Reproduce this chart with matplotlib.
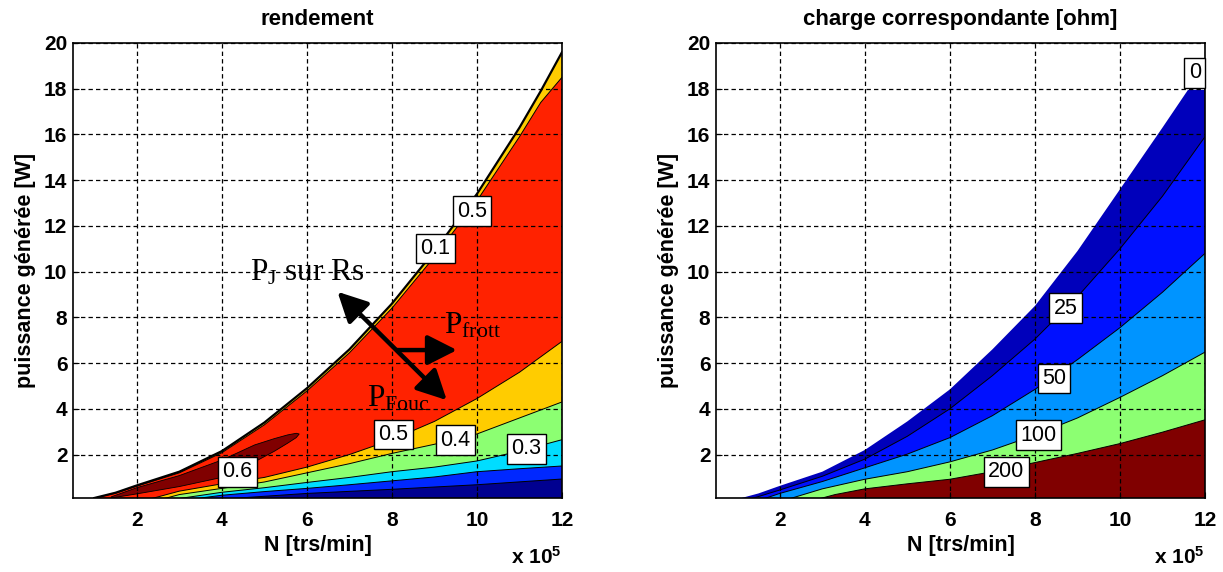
import matplotlib
matplotlib.use('Agg')
import matplotlib.pyplot as plt

plt.rcParams['font.family'] = ['Liberation Sans', 'DejaVu Sans']
plt.rcParams['mathtext.fontset'] = 'custom'
plt.rcParams['mathtext.rm'] = 'Liberation Serif'
plt.rcParams['mathtext.it'] = 'Liberation Serif:italic'
plt.rcParams['mathtext.bf'] = 'Liberation Sans:bold'

# ---------------- data (N in units of 1e5 trs/min, P in W) ----------------
# left plot: efficiency ("rendement")
N_upper = [1.0, 1.5, 2, 3, 4, 5, 6, 7, 8, 9, 10, 11, 11.5, 12]
P_upper = [0.1, 0.33, 0.65, 1.25, 2.15, 3.4, 4.9, 6.6, 8.6, 10.9, 13.4, 16.3, 17.9, 19.6]
P_red_top = [0.1, 0.31, 0.62, 1.2, 2.08, 3.3, 4.78, 6.45, 8.4, 10.65, 13.1, 15.9, 17.4, 18.5]

N_eff_hi = [1.4, 2, 3, 4, 4.77, 5.24, 5.55, 5.75, 5.82]
P_eff_hi_top = [0.15, 0.55, 1.08, 1.76, 2.42, 2.7, 2.86, 2.93, 2.9]
P_eff_hi_bot = [0.1, 0.28, 0.6, 1.0, 1.68, 2.15, 2.5, 2.74, 2.9]

N_c05 = [2.3, 3, 4, 5, 6, 7, 8, 9, 10, 11, 12]
P_c05 = [0.05, 0.4, 0.72, 1.0, 1.45, 2.0, 2.65, 3.45, 4.45, 5.6, 6.95]
N_c04 = [2.6, 3, 4, 5, 6, 7, 8, 9, 10, 11, 12]
P_c04 = [0.05, 0.25, 0.52, 0.8, 1.2, 1.6, 2.05, 2.45, 2.9, 3.6, 4.3]
N_c03 = [2.9, 4, 5, 6, 7, 8, 9, 10, 11, 12]
P_c03 = [0.05, 0.35, 0.55, 0.78, 1.0, 1.25, 1.45, 1.72, 2.15, 2.65]
N_c02 = [3.3, 4, 5, 6, 7, 8, 9, 10, 11, 12]
P_c02 = [0.05, 0.22, 0.38, 0.52, 0.68, 0.85, 1.02, 1.25, 1.38, 1.5]
N_c01 = [4, 6, 8, 10, 12]
P_c01 = [0.05, 0.3, 0.48, 0.68, 0.93]

eff_labels = ['0.6', '0.5', '0.4', '0.3', '0.1', '0.5']
eff_label_N = [4.37, 8.04, 9.49, 11.16, 9.02, 9.88]
eff_label_P = [1.24, 2.87, 2.63, 2.25, 11.01, 12.65]

# right plot: matching load ("charge correspondante")
N_r_upper = [1.0, 1.5, 2, 3, 4, 5, 6, 7, 8, 9, 10, 11, 11.6, 12]
P_r_upper = [0.05, 0.3, 0.63, 1.25, 2.2, 3.45, 4.85, 6.6, 8.5, 10.9, 13.6, 16.3, 17.95, 17.95]
N_r25 = [1.3, 2, 3, 4, 5, 6, 7, 8, 9, 10, 11, 12]
P_r25 = [0.05, 0.45, 1.05, 1.8, 2.8, 4.0, 5.45, 7.05, 8.9, 11.0, 13.3, 15.9]
N_r50 = [1.6, 2, 3, 4, 5, 6, 7, 8, 9, 10, 11, 12]
P_r50 = [0.05, 0.3, 0.82, 1.42, 2.02, 2.74, 3.7, 4.85, 6.15, 7.55, 9.1, 10.8]
N_r100 = [2.2, 3, 4, 5, 6, 7, 8, 9, 10, 11, 12]
P_r100 = [0.05, 0.5, 0.92, 1.25, 1.68, 2.2, 2.85, 3.6, 4.5, 5.45, 6.48]
N_r200 = [2.9, 3.3, 4, 5, 6, 7, 8, 9, 10, 11, 12]
P_r200 = [0.05, 0.25, 0.5, 0.72, 0.92, 1.25, 1.65, 2.05, 2.48, 2.98, 3.52]

load_labels = ['0', '25', '50', '100', '200']
load_label_N = [11.76, 8.72, 8.45, 8.08, 7.33]
load_label_P = [18.69, 8.4, 5.32, 2.85, 1.25]

x_ticks = [2, 4, 6, 8, 10, 12]
y_ticks = [2, 4, 6, 8, 10, 12, 14, 16, 18, 20]

# ---------------- styles ----------------
YBOT = 0.0
C_DKRED = '#800000'
C_RED = '#FF2200'
C_YEL = '#FFCC00'
C_GRN = '#8CFF72'
C_CYAN = '#00DDFF'
C_BLUE = '#0028FF'
C_DKBLUE = '#000090'
C_R_DKBLUE = '#0000BB'
C_R_BLUE = '#0010FF'
C_R_LTBLUE = '#0094FF'

W, H = 1223, 572
fig = plt.figure(figsize=(W / 100, H / 100), dpi=100)
ax1 = fig.add_axes([73 / W, (H - 498) / H, 489 / W, 455 / H])
ax2 = fig.add_axes([716 / W, (H - 498) / H, 489 / W, 455 / H])


def fill_under(ax, N, P, color):
    xs = list(N) + [N[-1], N[0]]
    ys = list(P) + [YBOT, YBOT]
    ax.fill(xs, ys, color=color, lw=0, zorder=1)


def line(ax, N, P, lw=0.7):
    ax.plot(N, P, color='black', lw=lw, zorder=1.5, solid_joinstyle='round')


def label_box(ax, x, y, s):
    ax.text(x, y, s, ha='center', va='center', fontsize=15.5, zorder=5,
            bbox=dict(boxstyle='square,pad=0.2', fc='white', ec='black', lw=1.0))


# ---- left ----
fill_under(ax1, N_upper, P_upper, C_YEL)
fill_under(ax1, N_upper, P_red_top, C_RED)
ax1.fill(N_eff_hi + N_eff_hi[::-1], P_eff_hi_top + P_eff_hi_bot[::-1],
         color=C_DKRED, lw=0.6, ec='black', zorder=1.2)
fill_under(ax1, N_c05, P_c05, C_YEL)
fill_under(ax1, N_c04, P_c04, C_GRN)
fill_under(ax1, N_c03, P_c03, C_CYAN)
fill_under(ax1, N_c02, P_c02, C_BLUE)
fill_under(ax1, N_c01, P_c01, C_DKBLUE)
line(ax1, N_upper, P_upper, lw=1.6)
line(ax1, N_upper, P_red_top, lw=0.7)
for n_, p_ in [(N_c05, P_c05), (N_c04, P_c04), (N_c03, P_c03), (N_c02, P_c02), (N_c01, P_c01)]:
    line(ax1, n_, p_)
for s, x, y in zip(eff_labels, eff_label_N, eff_label_P):
    label_box(ax1, x, y, s)

serif = dict(family='Liberation Serif', fontsize=22.5, zorder=6, ha='left', va='baseline')
ax1.text(4.67, 9.63, r'P$_\mathrm{J}$ sur Rs', **serif)
ax1.text(9.22, 7.3, r'P$_\mathrm{frott}$', **serif)
ax1.text(7.41, 4.1, r'P$_\mathrm{Fouc}$', **serif)
ax1.annotate('', xy=(9.29, 4.38), xytext=(6.72, 9.12), zorder=6,
             arrowprops=dict(arrowstyle='<|-|>,head_length=0.75,head_width=0.38', lw=3.2,
                             color='black', shrinkA=0, shrinkB=0, mutation_scale=24))
ax1.annotate('', xy=(9.53, 6.57), xytext=(8.12, 6.57), zorder=6,
             arrowprops=dict(arrowstyle='-|>,head_length=0.75,head_width=0.38', lw=3.2,
                             color='black', shrinkA=0, shrinkB=0, mutation_scale=24))
ax1.set_title('rendement', fontsize=16, fontweight='bold', pad=13)

# ---- right ----
fill_under(ax2, N_r_upper, P_r_upper, C_R_DKBLUE)
fill_under(ax2, N_r25, P_r25, C_R_BLUE)
fill_under(ax2, N_r50, P_r50, C_R_LTBLUE)
fill_under(ax2, N_r100, P_r100, C_GRN)
fill_under(ax2, N_r200, P_r200, C_DKRED)
for n_, p_ in [(N_r25, P_r25), (N_r50, P_r50), (N_r100, P_r100), (N_r200, P_r200)]:
    line(ax2, n_, p_)
for s, x, y in zip(load_labels, load_label_N, load_label_P):
    label_box(ax2, x, y, s)
ax2.set_title('charge correspondante [ohm]', fontsize=16, fontweight='bold', pad=13)

for ax in (ax1, ax2):
    ax.set_xlim(0.5, 12)
    ax.set_ylim(0.1, 20)
    ax.set_xticks(x_ticks)
    ax.set_yticks(y_ticks)
    ax.set_axisbelow(False)
    ax.grid(True, color='black', lw=0.9, linestyle=(0, (3.5, 2.5)))
    ax.tick_params(direction='in', length=4, labelsize=15, pad=9, color='black')
    ax.tick_params(axis='y', pad=4)
    for lab in ax.get_xticklabels() + ax.get_yticklabels():
        lab.set_fontweight('bold')
    for sp in ax.spines.values():
        sp.set_linewidth(1.2)
    ax.set_xlabel('N [trs/min]', fontsize=15.5, fontweight='bold', labelpad=4)
    ax.set_ylabel('puissance générée [W]', fontsize=15.5, fontweight='bold', labelpad=6)
    ax.text(0.895, -0.145, r'x 10$^{\mathbf{5}}$', transform=ax.transAxes, fontsize=15,
            fontweight='bold', ha='left', va='baseline')

fig.savefig('out.png', dpi=100)
